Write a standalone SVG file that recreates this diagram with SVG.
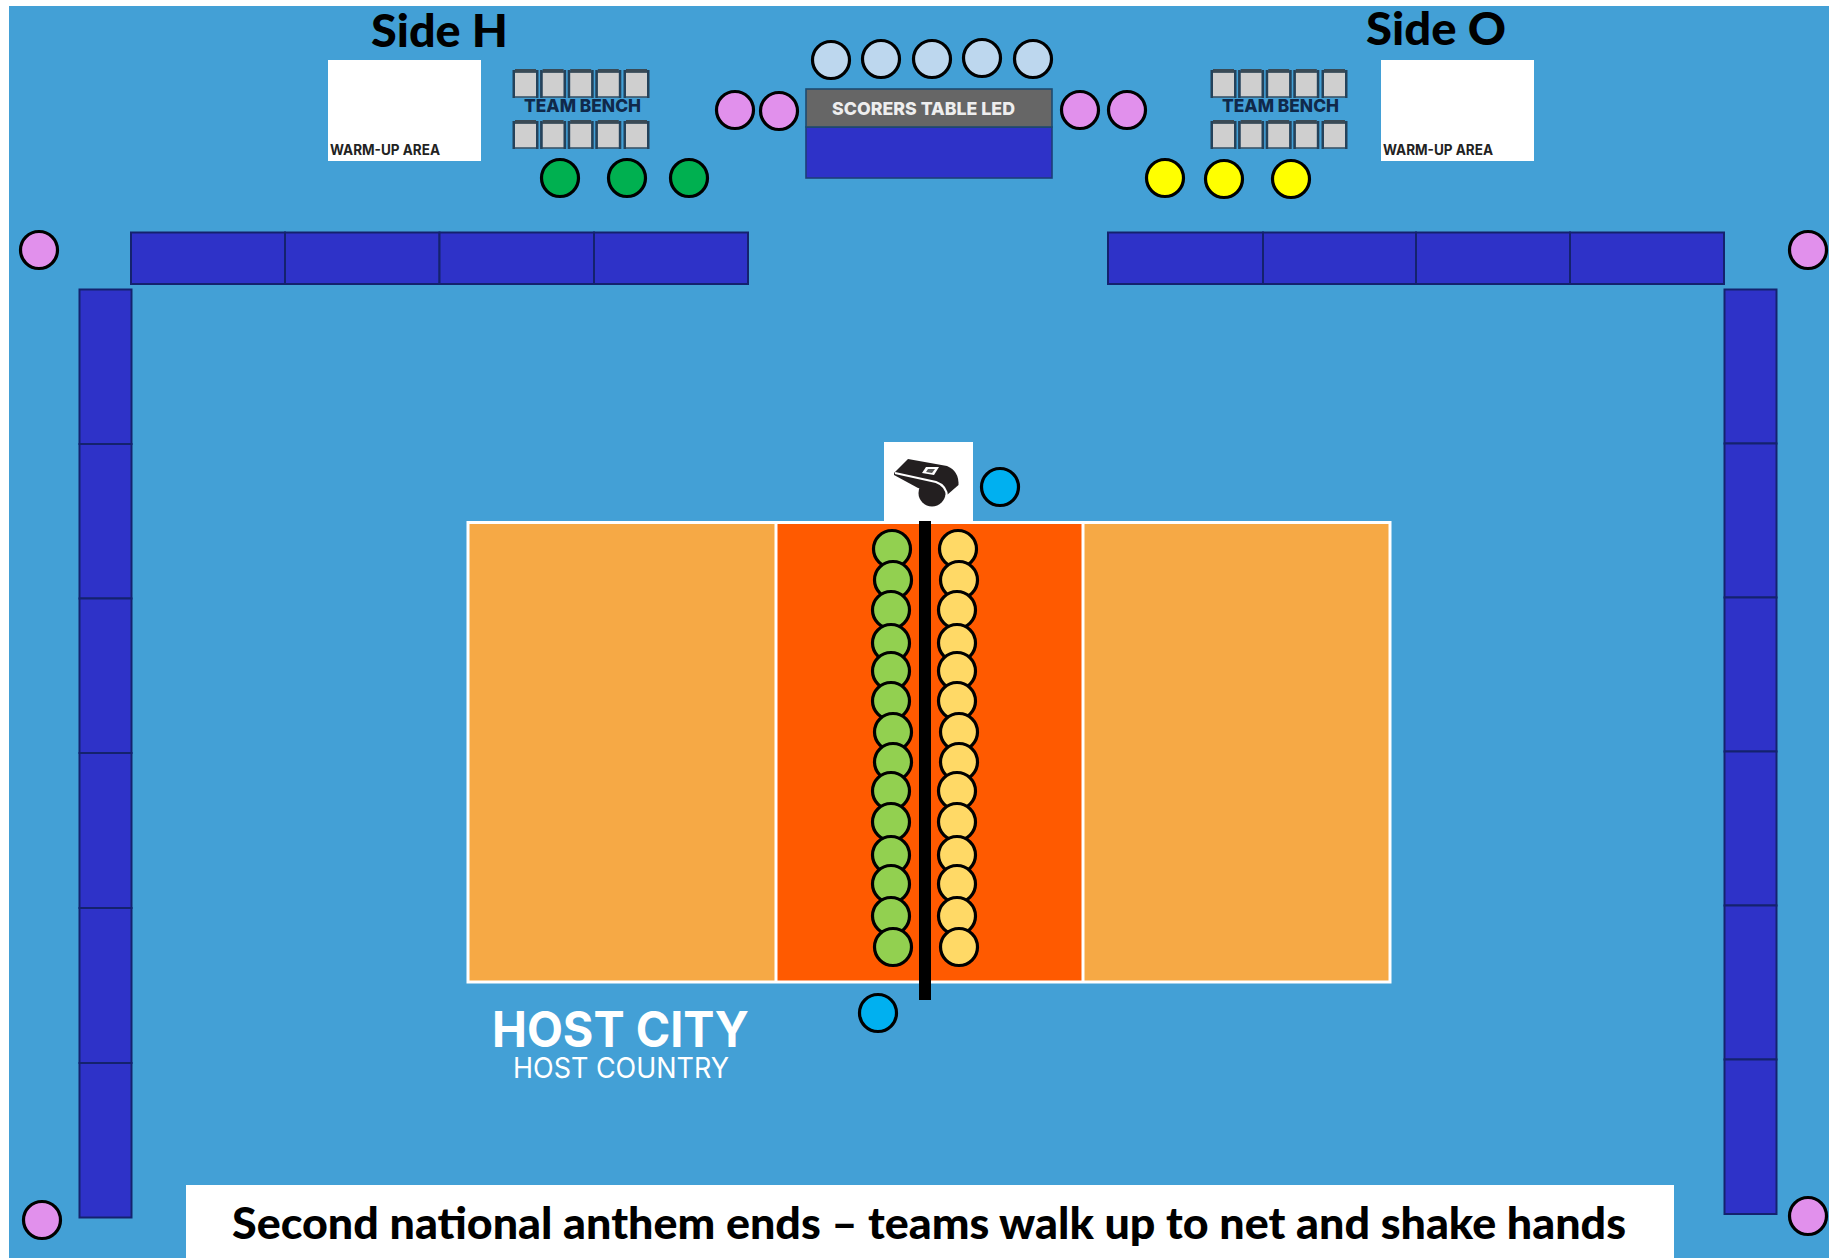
<svg xmlns="http://www.w3.org/2000/svg" xmlns:xlink="http://www.w3.org/1999/xlink" width="1829" height="1258" viewBox="0 0 1829 1258">
<style>
.c{stroke:#000;stroke-width:3.2}
.pink{fill:#E190EC}.lb{fill:#BDD7EE}.dg{fill:#00B050}.yl{fill:#FFFF00}.cy{fill:#00B0F0}.lg{fill:#92D050}.ly{fill:#FFD966}
.bar{fill:#2E32C8;stroke:#14226E;stroke-width:2}
.t{font-family:"Inter","Liberation Sans",sans-serif}
.s{font-family:"Lato","Open Sans","Liberation Sans",sans-serif;font-weight:900;fill:#000}
.bench{font-size:18px;font-weight:800;fill:#10294A}
.warm{font-size:14px;font-weight:700;fill:#222}
.ln{fill:none;stroke:#fff;stroke-width:3}
</style>
<defs>
<g id="seat">
<rect x="1" y="3" width="23" height="25" fill="#CFCFCF" stroke="#3A5468" stroke-width="1.6"/>
<rect x="2" y="0" width="21" height="3.500" fill="#3A4A55"/>
<rect x="-0.5" y="1" width="2.500" height="28" fill="#25425A"/>
<rect x="23" y="1" width="2.500" height="28" fill="#25425A"/>
</g>
<g id="benchSeats">
<use xlink:href="#seat" href="#seat" x="0" y="0"/><use xlink:href="#seat" href="#seat" x="27.6" y="0"/><use xlink:href="#seat" href="#seat" x="55.2" y="0"/><use xlink:href="#seat" href="#seat" x="82.8" y="0"/><use xlink:href="#seat" href="#seat" x="111" y="0"/>
</g>
</defs>
<rect id="page" width="1829" height="1258" fill="#fff"/>
<rect id="floor" x="9" y="6" width="1820" height="1252" fill="#43A0D6"/>

<g id="label-side-h"><text class="s" x="371" y="47" font-size="46" textLength="137" lengthAdjust="spacingAndGlyphs">Side H</text></g>
<g id="label-side-o"><text class="s" x="1366" y="45" font-size="45" textLength="140" lengthAdjust="spacingAndGlyphs">Side O</text></g>

<g id="warmup-h"><rect x="328" y="60" width="153" height="101" fill="#fff"/><text class="t warm" x="330" y="155" textLength="110" lengthAdjust="spacingAndGlyphs">WARM-UP AREA</text></g>
<g id="warmup-o"><rect x="1381" y="60" width="153" height="101" fill="#fff"/><text class="t warm" x="1383" y="155" textLength="110" lengthAdjust="spacingAndGlyphs">WARM-UP AREA</text></g>

<g id="bench-h">
<use xlink:href="#benchSeats" href="#benchSeats" x="513" y="69"/><use xlink:href="#benchSeats" href="#benchSeats" x="513" y="120"/>
<text class="t bench" x="524" y="112" textLength="117" lengthAdjust="spacingAndGlyphs">TEAM BENCH</text>
</g>
<g id="bench-o">
<use xlink:href="#benchSeats" href="#benchSeats" x="1211" y="69"/><use xlink:href="#benchSeats" href="#benchSeats" x="1211" y="120"/>
<text class="t bench" x="1222" y="112" textLength="117" lengthAdjust="spacingAndGlyphs">TEAM BENCH</text>
</g>

<g id="scorers-table">
<rect x="806" y="127" width="246" height="51" fill="#2E32C8" stroke="#1D3E78" stroke-width="1.6"/>
<rect x="806" y="89" width="246" height="38" fill="#666" stroke="#1F4A6E" stroke-width="1.6"/>
<text class="t" x="832" y="115" font-size="18" font-weight="800" fill="#EEE" textLength="183" lengthAdjust="spacingAndGlyphs">SCORERS TABLE LED</text>
</g>

<g id="scorers">
<circle class="c lb" cx="831" cy="60" r="18.5"/><circle class="c lb" cx="881" cy="59" r="18.5"/><circle class="c lb" cx="932" cy="59" r="18.5"/><circle class="c lb" cx="982" cy="58" r="18.5"/><circle class="c lb" cx="1033" cy="59" r="18.5"/>
</g>
<g id="officials-pink">
<circle class="c pink" cx="735" cy="110" r="18.5"/><circle class="c pink" cx="779" cy="111" r="18.5"/><circle class="c pink" cx="1080" cy="110" r="18.5"/><circle class="c pink" cx="1127" cy="110" r="18.5"/>
<circle class="c pink" cx="39" cy="250" r="18.5"/><circle class="c pink" cx="1808" cy="250" r="18.5"/><circle class="c pink" cx="42" cy="1220" r="18.5"/><circle class="c pink" cx="1808" cy="1216" r="18.5"/>
</g>
<g id="staff-h"><circle class="c dg" cx="560" cy="178" r="18.5"/><circle class="c dg" cx="627" cy="178" r="18.5"/><circle class="c dg" cx="689" cy="178" r="18.5"/></g>
<g id="staff-o"><circle class="c yl" cx="1165" cy="178" r="18.5"/><circle class="c yl" cx="1224" cy="179" r="18.5"/><circle class="c yl" cx="1291" cy="179" r="18.5"/></g>

<g id="boards-top-left"><rect class="bar" x="131" y="232.500" width="154" height="51.500"/><rect class="bar" x="285" y="232.500" width="154.500" height="51.500"/><rect class="bar" x="439.500" y="232.500" width="154.500" height="51.500"/><rect class="bar" x="594" y="232.500" width="154" height="51.500"/></g>
<g id="boards-top-right"><rect class="bar" x="1108" y="232.500" width="155" height="51.500"/><rect class="bar" x="1263" y="232.500" width="153" height="51.500"/><rect class="bar" x="1416" y="232.500" width="154" height="51.500"/><rect class="bar" x="1570" y="232.500" width="154" height="51.500"/></g>
<g id="boards-left"><rect class="bar" x="79.500" y="289.500" width="52" height="154.500"/><rect class="bar" x="79.500" y="444" width="52" height="154.500"/><rect class="bar" x="79.500" y="598.500" width="52" height="154.500"/><rect class="bar" x="79.500" y="753" width="52" height="155"/><rect class="bar" x="79.500" y="908" width="52" height="155"/><rect class="bar" x="79.500" y="1063" width="52" height="154.500"/></g>
<g id="boards-right"><rect class="bar" x="1724.500" y="289.500" width="52" height="154"/><rect class="bar" x="1724.500" y="443.500" width="52" height="154"/><rect class="bar" x="1724.500" y="597.500" width="52" height="154"/><rect class="bar" x="1724.500" y="751.500" width="52" height="154"/><rect class="bar" x="1724.500" y="905.500" width="52" height="154"/><rect class="bar" x="1724.500" y="1059.500" width="52" height="154.500"/></g>

<g id="court">
<rect x="468" y="522.500" width="922" height="459.500" fill="#F6A945"/>
<rect x="776" y="522.500" width="307" height="459.500" fill="#FF5A00"/>
<rect class="ln" x="468" y="522.500" width="922" height="459.500"/>
<path class="ln" d="M776 522V982M1083 522V982"/>
</g>

<g id="referee-box">
<rect x="884" y="442" width="89" height="80" fill="#fff"/>
<path d="M894 473L908 459L947 466Q959 471 958.500 485L947 495L918 488L894 475Z" fill="#231F20"/>
<circle cx="932" cy="493" r="13.500" fill="#231F20"/>
<path d="M895 473L936 482Q947 486 947 497" fill="none" stroke="#fff" stroke-width="2"/>
<path d="M922 473L926 467L939 467L934 475Z" fill="#fff"/>
<path d="M926 472L928 469L935 469L932 473Z" fill="#555"/>
</g>

<g id="team-h">
<circle class="c lg" cx="892" cy="549" r="18.5"/><circle class="c lg" cx="893" cy="580" r="18.5"/><circle class="c lg" cx="891" cy="610" r="18.5"/><circle class="c lg" cx="891" cy="643" r="18.5"/><circle class="c lg" cx="891" cy="671" r="18.5"/><circle class="c lg" cx="891" cy="701" r="18.5"/><circle class="c lg" cx="893" cy="732" r="18.5"/><circle class="c lg" cx="893" cy="762" r="18.5"/><circle class="c lg" cx="891" cy="791" r="18.5"/><circle class="c lg" cx="891" cy="822" r="18.5"/><circle class="c lg" cx="891" cy="855" r="18.5"/><circle class="c lg" cx="891" cy="884" r="18.5"/><circle class="c lg" cx="891" cy="916" r="18.5"/><circle class="c lg" cx="893" cy="947" r="18.5"/>
</g>
<g id="team-o">
<circle class="c ly" cx="958" cy="549" r="18.5"/><circle class="c ly" cx="959" cy="580" r="18.5"/><circle class="c ly" cx="957" cy="610" r="18.5"/><circle class="c ly" cx="957" cy="643" r="18.5"/><circle class="c ly" cx="957" cy="671" r="18.5"/><circle class="c ly" cx="957" cy="701" r="18.5"/><circle class="c ly" cx="959" cy="732" r="18.5"/><circle class="c ly" cx="959" cy="762" r="18.5"/><circle class="c ly" cx="957" cy="791" r="18.5"/><circle class="c ly" cx="957" cy="822" r="18.5"/><circle class="c ly" cx="957" cy="855" r="18.5"/><circle class="c ly" cx="957" cy="884" r="18.5"/><circle class="c ly" cx="957" cy="916" r="18.5"/><circle class="c ly" cx="959" cy="947" r="18.5"/>
</g>
<rect id="net" x="919" y="521" width="12" height="479" fill="#000"/>
<g id="referees"><circle class="c cy" cx="1000" cy="487" r="18.5"/><circle class="c cy" cx="878" cy="1013" r="18.5"/></g>

<g id="host-logo" class="t" fill="#fff">
<text x="492" y="1047" font-size="49" font-weight="700" textLength="257" lengthAdjust="spacingAndGlyphs">HOST CITY</text>
<text x="513" y="1078" font-size="28" font-weight="400" textLength="216" lengthAdjust="spacingAndGlyphs">HOST COUNTRY</text>
</g>

<g id="caption">
<rect x="186" y="1185" width="1488" height="73" fill="#fff"/>
<text class="s" x="232" y="1239" font-size="43" textLength="1394" lengthAdjust="spacingAndGlyphs">Second national anthem ends – teams walk up to net and shake hands</text>
</g>
<g id="connectors"/>
</svg>
